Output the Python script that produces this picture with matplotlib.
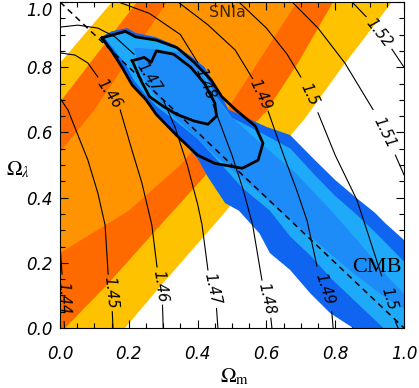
import numpy as np
import matplotlib
matplotlib.use("Agg")
import matplotlib.pyplot as plt

plt.rcParams['mathtext.fontset'] = 'stix'

# ---- SNIa band edges (Omega_m, Omega_lambda), upper side then lower side ----
sn3_up_m = [-0.9, 0.0, 0.151, 0.4]
sn3_up_l = [-0.3, 0.813, 1.0, 1.31]
sn2_up_m = [-0.73, 0.0, 0.224, 0.45]
sn2_up_l = [-0.3, 0.693, 1.0, 1.31]
sn1_up_m = [-0.65, 0.0, 0.10, 0.311, 0.5]
sn1_up_l = [-0.3, 0.54, 0.669, 1.0, 1.3]
sn1_lo_m = [-0.6, 0.0, 0.2, 0.35, 0.48, 0.689, 0.87]
sn1_lo_l = [-0.3, 0.23, 0.36, 0.50, 0.66, 1.0, 1.3]
sn2_lo_m = [-0.28, 0.015, 0.131, 0.305, 0.45, 0.60, 0.69, 0.794, 0.96]
sn2_lo_l = [-0.3, 0.0, 0.126, 0.331, 0.50, 0.665, 0.81, 1.0, 1.3]
sn3_lo_m = [-0.06, 0.189, 0.29, 0.46, 0.71, 0.82, 0.965, 1.2]
sn3_lo_l = [-0.3, 0.0, 0.126, 0.331, 0.64, 0.80, 1.0, 1.3]

# ---- CMB regions ----
cmb3_m = [0.116, 0.15, 0.195, 0.22, 0.276, 0.334, 0.384, 0.42, 0.46, 0.49, 0.60, 0.669,
          0.741, 0.80, 0.858, 0.916, 0.945, 1.0, 1.05, 1.05, 0.852, 0.785, 0.727, 0.669,
          0.61, 0.58, 0.52, 0.48, 0.43, 0.40, 0.35, 0.30, 0.276, 0.247, 0.21, 0.18]
cmb3_l = [0.89, 0.91, 0.92, 0.905, 0.893, 0.868, 0.831, 0.80, 0.73, 0.67, 0.617, 0.592,
          0.515, 0.454, 0.402, 0.353, 0.322, 0.27, 0.2, -0.05, 0.0, 0.046, 0.107, 0.178,
          0.23, 0.29, 0.36, 0.383, 0.463, 0.52, 0.58, 0.63, 0.66, 0.70, 0.74, 0.80]
cmb2_m = [0.13, 0.19, 0.22, 0.28, 0.335, 0.385, 0.42, 0.455, 0.50, 0.60, 0.67, 0.74, 0.80,
          0.86, 0.92, 1.05, 1.05, 0.94, 0.86, 0.79, 0.73, 0.67, 0.61, 0.53, 0.47, 0.40,
          0.33, 0.28, 0.245, 0.215, 0.19]
cmb2_l = [0.89, 0.905, 0.895, 0.885, 0.86, 0.82, 0.78, 0.71, 0.645, 0.59, 0.55, 0.47,
          0.405, 0.35, 0.29, 0.15, -0.05, 0.0, 0.08, 0.15, 0.22, 0.28, 0.36, 0.43, 0.50,
          0.58, 0.64, 0.68, 0.72, 0.76, 0.81]
cmb1_m = [0.215, 0.28, 0.35, 0.40, 0.44, 0.49, 0.58, 0.68, 0.78, 0.88, 0.95, 1.05, 1.05,
          0.95, 0.85, 0.75, 0.65, 0.55, 0.45, 0.38, 0.32, 0.27, 0.23]
cmb1_l = [0.86, 0.855, 0.845, 0.80, 0.73, 0.655, 0.57, 0.48, 0.37, 0.25, 0.16, 0.05, 0.03,
          0.09, 0.17, 0.26, 0.35, 0.44, 0.53, 0.60, 0.66, 0.72, 0.79]

# ---- combined contours ----
comb2_m = [0.122, 0.19, 0.22, 0.28, 0.34, 0.39, 0.44, 0.47, 0.51, 0.567, 0.59, 0.576,
           0.53, 0.45, 0.40, 0.34, 0.28, 0.25, 0.21, 0.18, 0.15, 0.122]
comb2_l = [0.89, 0.91, 0.893, 0.883, 0.86, 0.815, 0.76, 0.71, 0.67, 0.62, 0.567, 0.515,
           0.49, 0.505, 0.53, 0.59, 0.655, 0.70, 0.745, 0.80, 0.85, 0.89]
comb1_m = [0.21, 0.245, 0.265, 0.28, 0.33, 0.38, 0.42, 0.45, 0.455, 0.43, 0.39, 0.34,
           0.30, 0.26, 0.235, 0.21]
comb1_l = [0.82, 0.83, 0.815, 0.85, 0.84, 0.80, 0.75, 0.69, 0.65, 0.625, 0.635, 0.655,
           0.68, 0.71, 0.76, 0.82]

# flat universe
flat_m = [0.0, 1.0]
flat_l = [1.0, 0.0]

# ---- thin iso-lines, nan = gap for the label ----
nan = np.nan
c144_m = [-0.02, 0.0, 0.006, nan, 0.012, 0.013]
c144_l = [0.33, 0.255, 0.165, nan, 0.02, 0.0]
c145_m = [0.0, 0.023, 0.081, 0.11, 0.131, 0.14, nan, 0.152, 0.154]
c145_l = [0.705, 0.669, 0.515, 0.414, 0.316, 0.165, nan, 0.05, 0.0]
c146_m = [0.0, 0.044, 0.081, 0.11, nan, 0.175, 0.209, 0.238, 0.267, 0.282, nan, 0.298, 0.30]
c146_l = [0.844, 0.837, 0.813, 0.77, nan, 0.669, 0.546, 0.445, 0.316, 0.187, nan, 0.07, 0.0]
c147_m = [0.0, 0.052, 0.11, 0.16, 0.215, nan, 0.30, 0.334, 0.37, 0.40, 0.413, 0.43, nan, 0.455, 0.459]
c147_l = [0.923, 0.929, 0.92, 0.893, 0.84, nan, 0.70, 0.617, 0.50, 0.38, 0.316, 0.178, nan, 0.06, 0.0]
c148_m = [0.17, 0.26, 0.35, 0.40, nan, 0.445, 0.50, 0.532, 0.56, 0.587, nan, 0.613, 0.616]
c148_l = [1.0, 0.965, 0.90, 0.815, nan, 0.685, 0.53, 0.426, 0.316, 0.147, nan, 0.03, 0.0]
c149_m = [0.343, 0.43, 0.509, 0.56, nan, 0.605, 0.65, 0.689, 0.718, 0.747, nan, 0.79, 0.794]
c149_l = [1.0, 0.93, 0.853, 0.765, nan, 0.665, 0.53, 0.42, 0.33, 0.19, nan, 0.05, 0.0]
c150_m = [0.52, 0.60, 0.66, 0.70, nan, 0.75, 0.80, 0.863, 0.887, 0.935, nan, 0.975, 0.983]
c150_l = [1.0, 0.92, 0.84, 0.77, nan, 0.66, 0.53, 0.393, 0.316, 0.16, nan, 0.02, 0.0]
c151_m = [0.675, 0.75, 0.828, 0.91, nan, 0.975, 1.0]
c151_l = [1.0, 0.92, 0.813, 0.67, nan, 0.53, 0.47]
c152_m = [0.849, 0.89, nan, 0.965, 1.0]
c152_l = [1.0, 0.955, nan, 0.855, 0.80]

iso_lines = [("1.44", c144_m, c144_l), ("1.45", c145_m, c145_l), ("1.46", c146_m, c146_l),
             ("1.47", c147_m, c147_l), ("1.48", c148_m, c148_l), ("1.49", c149_m, c149_l),
             ("1.5", c150_m, c150_l), ("1.51", c151_m, c151_l), ("1.52", c152_m, c152_l)]

fig = plt.figure(figsize=(4.19, 3.88), dpi=100)
ax = fig.add_axes([60/419, 60/388, 344/419, 326/388])
ax.set_xlim(0, 1)
ax.set_ylim(0, 1)


def band(up_m, up_l, lo_m, lo_l, color):
    xs = np.concatenate([up_m, lo_m[::-1]])
    ys = np.concatenate([up_l, lo_l[::-1]])
    ax.fill(xs, ys, color=color, lw=0, zorder=1)


band(sn3_up_m, sn3_up_l, sn3_lo_m, sn3_lo_l, '#FFC200')
band(sn2_up_m, sn2_up_l, sn2_lo_m, sn2_lo_l, '#FF6A00')
band(sn1_up_m, sn1_up_l, sn1_lo_m, sn1_lo_l, '#FF9400')

ax.fill(cmb3_m, cmb3_l, color='#0F64F0', lw=0, zorder=2)
ax.fill(cmb2_m, cmb2_l, color='#1EAAF8', lw=0, zorder=2)
ax.fill(cmb1_m, cmb1_l, color='#1E8CF8', lw=0, zorder=2)

for txt, xs, ys in iso_lines:
    ax.plot(xs, ys, color='black', lw=0.8, zorder=3)
    xs = np.array(xs)
    ys = np.array(ys)
    for i in np.where(np.isnan(xs))[0]:
        p0 = ax.transData.transform((xs[i-1], ys[i-1]))
        p1 = ax.transData.transform((xs[i+1], ys[i+1]))
        ang = np.degrees(np.arctan2(p1[1]-p0[1], p1[0]-p0[0]))
        ax.text((xs[i-1]+xs[i+1])/2, (ys[i-1]+ys[i+1])/2, txt, rotation=ang,
                rotation_mode='anchor', ha='center', va='center',
                fontsize=10.5, style='italic', zorder=5)

ax.plot(flat_m, flat_l, color='black', lw=1.1, dashes=(4, 3), zorder=4)
ax.plot(comb2_m, comb2_l, color='black', lw=2.0, zorder=4)
ax.plot(comb1_m, comb1_l, color='black', lw=2.0, zorder=4)

ax.text(0.488, 0.969, "SNIa", fontsize=11.5, color='#3a2505', ha='center', va='center', zorder=5)
ax.text(0.92, 0.185, "CMB", fontsize=16, family='Liberation Serif', ha='center', va='center', zorder=5)

ax.set_xticks([0.0, 0.2, 0.4, 0.6, 0.8, 1.0])
ax.set_yticks([0.0, 0.2, 0.4, 0.6, 0.8, 1.0])
ax.set_xticks(np.arange(0, 1.001, 0.05), minor=True)
ax.set_yticks(np.arange(0, 1.001, 0.05), minor=True)
ax.tick_params(which='both', direction='in', top=True, right=True, labelsize=12)
ax.tick_params(which='major', length=6, width=0.8)
ax.tick_params(which='minor', length=3.5, width=0.8)
ax.tick_params(axis='x', pad=12)
ax.tick_params(axis='y', pad=5)
ax.xaxis.set_major_formatter(matplotlib.ticker.FormatStrFormatter('%.1f'))
ax.yaxis.set_major_formatter(matplotlib.ticker.FormatStrFormatter('%.1f'))
fig.canvas.draw()
for lab in ax.get_xticklabels() + ax.get_yticklabels():
    lab.set_style('italic')
ax.get_yticklabels()[-1].set_va('top')

fig.text(235/419, 1 - 377/388, r'$\Omega_{\rm m}$', fontsize=15, ha='center', va='center')
fig.text(18/419, 1 - 170/388, r'$\Omega_\lambda$', fontsize=15, ha='center', va='center')

fig.savefig("out.png", dpi=100)
